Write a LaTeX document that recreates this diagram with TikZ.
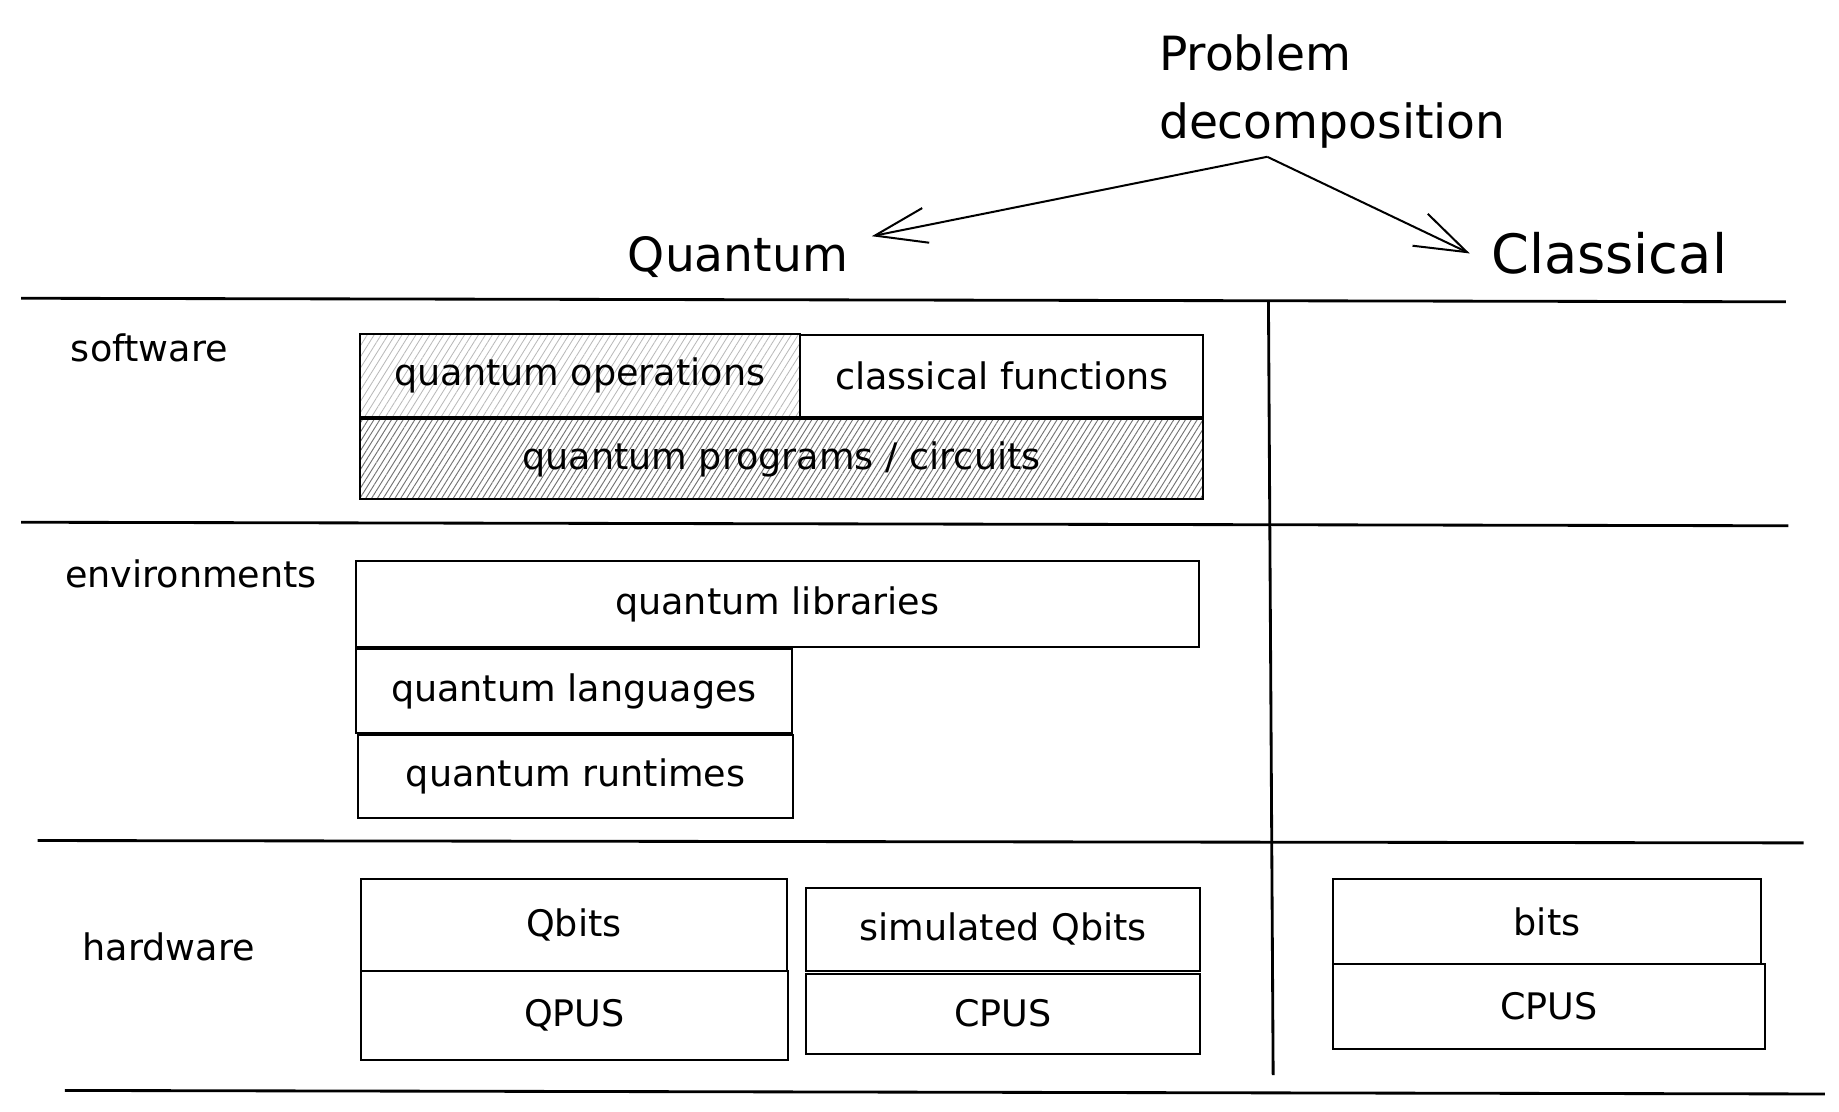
\documentclass[tikz,border=0pt]{standalone}
\usepackage{fontspec}
\setmainfont{DejaVu Sans}
\usetikzlibrary{positioning, arrows.meta, patterns.meta}

\begin{document}
\begin{tikzpicture}[x=1pt, y=1pt,
    % Node Styles
    box/.style={draw=black, line width=1.7pt, inner sep=0pt, anchor=north west, font=\fontsize{31}{36}\selectfont},
    lighthatch/.style={pattern={Lines[angle=58, distance=5pt, line width=0.7pt]}, pattern color=black!28},
    densehatch/.style={pattern={Lines[angle=58, distance=4.2pt, line width=0.8pt]}, pattern color=black!55},
    rowlabel/.style={anchor=west, inner sep=0pt, font=\fontsize{31}{36}\selectfont},
    heading/.style={inner ysep=0pt, inner xsep=20pt, font=\fontsize{40}{58}\selectfont},
    % Line Styles
    rule/.style={line width=2.4pt},
    sketcharrow/.style={line width=1.7pt, -{Straight Barb[length=44pt, width=30pt]}}
]
\useasboundingbox (0,0) rectangle (1560,-943);

% Headings
\node[heading, inner xsep=0pt, anchor=north west, align=left] (problem) at (983,-29) {Problem\\decomposition};
\node[heading] (quantum) at (626,-218) {Quantum};
\node[heading, inner xsep=18pt, font=\fontsize{46}{52}\selectfont] (classical) at (1365,-215) {Classical};
\coordinate (split) at (1075,-133);
\draw[sketcharrow] (split) -- (quantum.north east);
\draw[sketcharrow] (split) -- (classical.west);

% Grid lines
\draw[rule] (18,-253) -- (1515,-256);
\draw[rule] (18,-443) -- (1517,-446);
\draw[rule] (32,-713) -- (1530,-715);
\draw[rule] (55,-925) -- (1548,-928);
\draw[rule] (1076,-255) -- (1080,-912);

% Row labels
\node[rowlabel] (software) at (60,-295) {software};
\node[rowlabel] (environments) at (55,-487) {environments};
\node[rowlabel] (hardware) at (70,-803) {hardware};

% Software
\node[box, lighthatch, minimum width=373pt, minimum height=70pt] (ops) at (305,-283) {quantum operations};
\node[box, minimum width=342pt, minimum height=70pt] (functions) at (678,-283) {classical functions};
\node[box, densehatch, minimum width=715pt, minimum height=68pt] (programs) at (305,-355) {quantum programs / circuits};

% Environments
\node[box, minimum width=715pt, minimum height=73pt] (libraries) at (301,-475) {quantum libraries};
\node[box, minimum width=370pt, minimum height=71pt] (languages) at (301,-550) {quantum languages};
\node[box, minimum width=369pt, minimum height=70pt] (runtimes) at (303,-623) {quantum runtimes};

% Hardware
\node[box, minimum width=362pt, minimum height=78pt] (qbits) at (305,-745) {Qbits};
\node[box, minimum width=363pt, minimum height=75pt] (qpus) at (305,-823) {QPUS};
\node[box, minimum width=334pt, minimum height=71pt] (simqbits) at (683,-752) {simulated Qbits};
\node[box, minimum width=334pt, minimum height=68pt] (simcpus) at (683,-825) {CPUS};
\node[box, minimum width=363pt, minimum height=72pt] (bits) at (1130,-745) {bits};
\node[box, minimum width=366pt, minimum height=72pt] (cpus) at (1130,-817) {CPUS};

\end{tikzpicture}
\end{document}
